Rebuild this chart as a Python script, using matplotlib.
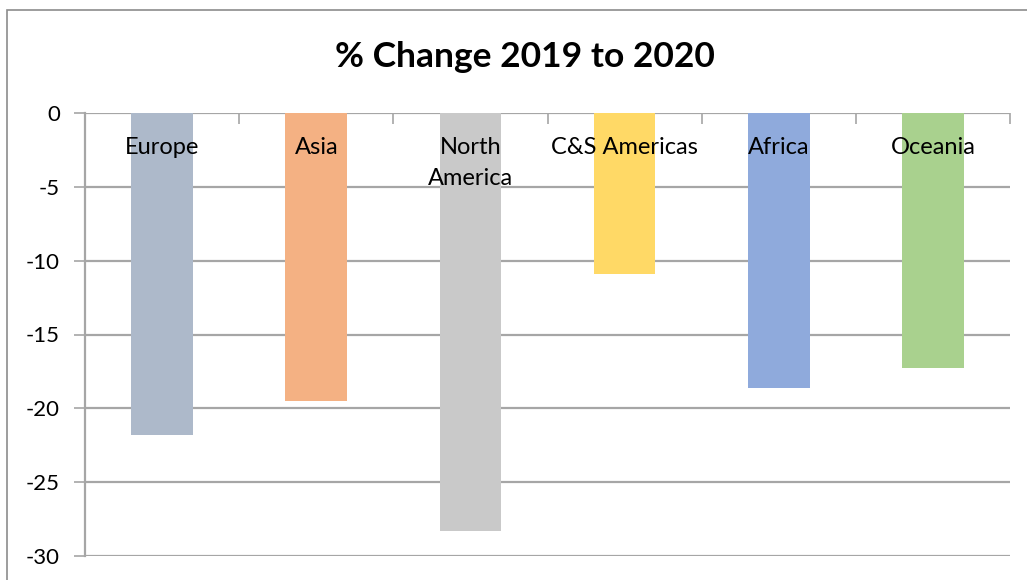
import matplotlib
matplotlib.use("Agg")
import matplotlib.pyplot as plt
from matplotlib.patches import Rectangle
from matplotlib.transforms import blended_transform_factory

# Regional percentage change, 2019 -> 2020
regions = ["Europe", "Asia", "North\nAmerica", "C&S Americas", "Africa", "Oceania"]
pct_change = [-21.8, -19.5, -28.3, -10.9, -18.6, -17.3]
bar_colors = ["#ADB9CA", "#F4B183", "#C9C9C9", "#FFD966", "#8FAADC", "#A9D18E"]
y_ticks = [0, -5, -10, -15, -20, -25, -30]

plt.rcParams["font.family"] = ["Lato", "DejaVu Sans"]

W, H = 1027, 580
fig = plt.figure(figsize=(W / 100, H / 100), dpi=100)
ax = fig.add_axes([85 / W, (H - 556) / H, 925 / W, 443 / H])

grid_color = "#A6A6A6"
x = range(len(regions))
ax.bar(x, pct_change, width=0.4, color=bar_colors, zorder=3)

ax.set_xlim(-0.5, len(regions) - 0.5)
ax.set_ylim(-30, 0)
ax.set_yticks(y_ticks)
ax.set_yticklabels([str(v) for v in y_ticks], fontsize=16)
ax.yaxis.grid(True, color=grid_color, linewidth=1.6, zorder=0)
ax.tick_params(axis="y", length=8, width=1.2, color=grid_color, pad=10)

# category axis sits at zero: tick marks between categories, pointing down
ax.xaxis.tick_top()
ax.set_xticks([])
ax.set_xticks([i - 0.5 for i in range(len(regions) + 1)], minor=True)
ax.tick_params(axis="x", which="minor", direction="in", length=8, width=1.2,
               color=grid_color)

for s in ["top", "right", "bottom"]:
    ax.spines[s].set_visible(False)
ax.spines["left"].set_color(grid_color)
ax.spines["left"].set_linewidth(1.6)

# region names hang just under the zero line
trans = blended_transform_factory(ax.transData, ax.transAxes)
for i, name in enumerate(regions):
    ax.text(i, 1 - 24 / 443, name, transform=trans, ha="center", va="top",
            fontsize=17, linespacing=1.6, zorder=4)

fig.text(525 / W, 1 - 57 / H, "% Change 2019 to 2020", ha="center",
         va="center", fontsize=25.5, fontweight="bold")

# chart frame
fig.patches.append(Rectangle((7 / W, -0.1), 1.1, 1 - 10 / H + 0.1,
                             transform=fig.transFigure, fill=False,
                             edgecolor="#8C8C8C", linewidth=1.2))

fig.savefig("out.png", dpi=100)
